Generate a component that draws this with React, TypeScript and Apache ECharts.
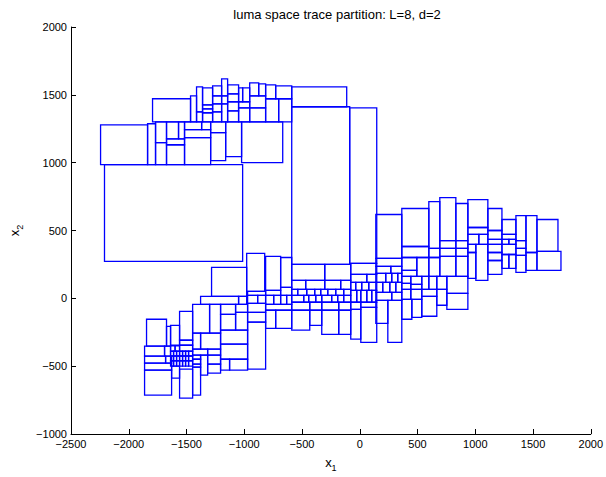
import React, { useEffect, useRef } from "react";
import * as echarts from "echarts";

// Each rectangle: [x0, x1, y0, y1] in data units
const topBlock: number[][] = [
  [-2244, -1837, 985, 1279],
  [-2210, -1014, 272, 985],
  [-1837, -1768, 985, 1287],
  [-1794, -1465, 1301, 1471],
  [-1465, -1413, 1301, 1493],
  [-1413, -1361, 1375, 1559],
  [-1413, -1361, 1301, 1375],
  [-1361, -1274, 1426, 1551],
  [-1361, -1274, 1397, 1426],
  [-1361, -1274, 1368, 1397],
  [-1361, -1274, 1301, 1368],
  [-1274, -1196, 1493, 1566],
  [-1274, -1196, 1434, 1493],
  [-1274, -1196, 1375, 1434],
  [-1274, -1196, 1301, 1375],
  [-1196, -1144, 1493, 1618],
  [-1196, -1144, 1434, 1493],
  [-1196, -1144, 1301, 1434],
  [-1144, -1049, 1507, 1574],
  [-1144, -1049, 1449, 1507],
  [-1144, -1049, 1382, 1449],
  [-1144, -1049, 1301, 1382],
  [-1049, -1014, 1449, 1551],
  [-1014, -953, 1449, 1551],
  [-1049, -953, 1404, 1449],
  [-1049, -953, 1301, 1404],
  [-953, -875, 1493, 1588],
  [-875, -815, 1493, 1581],
  [-953, -815, 1404, 1493],
  [-953, -815, 1301, 1404],
  [-815, -728, 1471, 1574],
  [-728, -589, 1471, 1566],
  [-815, -702, 1301, 1471],
  [-702, -589, 1301, 1471],
];

const topLower: number[][] = [
  [-1768, -1673, 1147, 1301],
  [-1768, -1673, 985, 1147],
  [-1673, -1569, 1176, 1301],
  [-1569, -1517, 1176, 1301],
  [-1673, -1517, 1132, 1176],
  [-1673, -1517, 985, 1132],
  [-1517, -1369, 1243, 1301],
  [-1369, -1291, 1243, 1301],
  [-1517, -1291, 1184, 1243],
  [-1517, -1291, 985, 1184],
  [-1291, -1161, 1221, 1301],
  [-1291, -1161, 1015, 1221],
  [-1161, -1023, 1044, 1301],
  [-1023, -667, 1000, 1301],
];

const middleTall: number[][] = [
  [-589, -113, 1412, 1559],
  [-589, -87, 250, 1412],
  [-87, 147, 257, 1404],
  [139, 364, 294, 618],
];

const lowerLeft: number[][] = [
  [-1283, -979, 15, 228],
  [-1378, -1049, -44, 15],
  [-1049, -979, -44, 15],
  [-1447, -1300, -257, -44],
  [-1300, -1205, -257, -44],
  [-1205, -1075, -118, -44],
  [-1205, -1075, -235, -118],
  [-1075, -971, -103, -44],
  [-1075, -971, -235, -103],
  [-1205, -971, -338, -235],
  [-1205, -971, -449, -338],
  [-1205, -1127, -529, -449],
  [-1127, -971, -529, -449],
  [-1447, -1378, -375, -257],
  [-1378, -1205, -375, -257],
  [-1447, -1317, -419, -375],
  [-1317, -1205, -419, -375],
  [-1317, -1205, -485, -419],
  [-1317, -1205, -551, -485],
  [-1378, -1317, -566, -419],
  [-1447, -1378, -449, -419],
  [-1447, -1378, -485, -449],
  [-1447, -1378, -507, -485],
  [-1447, -1378, -713, -507],
  [-1560, -1447, -309, -96],
  [-1560, -1447, -346, -309],
  [-1560, -1447, -390, -346],
  [-1560, -1447, -735, -522],
  [-1638, -1560, -346, -199],
  [-1673, -1638, -353, -206],
  [-1846, -1673, -353, -154],
  [-1863, -1690, -426, -353],
  [-1690, -1638, -426, -353],
  [-1863, -1681, -478, -426],
  [-1681, -1629, -478, -426],
  [-1863, -1629, -529, -478],
  [-1863, -1629, -713, -529],
  [-1629, -1560, -588, -500],
  [-1638, -1599, -390, -350],
  [-1599, -1560, -390, -350],
];

// small cells of the dense lower-left grid
const gridXEdges = [-1638, -1612, -1586, -1560, -1534, -1508, -1482, -1447];
const gridYEdges = [-390, -425, -460, -500];

const lowerMiddle: number[][] = [
  [-979, -823, 51, 331],
  [-815, -685, 59, 309],
  [-685, -589, 81, 301],
  [-589, -303, 132, 250],
  [-303, -78, 132, 250],
  [-78, 147, 176, 257],
  [-78, 61, 118, 176],
  [61, 147, 118, 176],
  [-971, -815, 22, 51],
  [-971, -884, -37, 22],
  [-884, -815, -37, 22],
  [-971, -815, -103, -37],
  [-971, -815, -176, -103],
  [-971, -815, -522, -176],
  [-815, -685, 22, 59],
  [-815, -745, -44, 22],
  [-745, -685, -44, 22],
  [-685, -589, 22, 81],
  [-685, -633, -44, 22],
  [-633, -589, -44, 22],
  [-815, -589, -88, -44],
  [-815, -728, -221, -88],
  [-728, -589, -221, -88],
  [-589, -433, -235, -88],
  [-433, -329, -199, -88],
  [-329, -182, -265, -88],
  [-182, -78, -265, -88],
  [-78, 9, -81, -29],
  [9, 147, -66, -29],
  [-78, 9, -301, -81],
  [9, 147, -324, -66],
];

// rows split into cells: [y0, y1, x edges...]
const splitRows: number[][] = [
  [66, 132, -589, -468, -303, -165, -78],
  [22, 66, -589, -537, -459, -390, -338, -277, -208, -139, -78],
  [-29, 22, -589, -485, -442, -381, -329, -243, -191, -139, -78],
  [-88, -29, -589, -433, -329, -182, -78],
  [59, 118, -78, -35, 17, 78, 147],
  [-29, 59, -78, -26, 9, 61, 104, 147],
  [118, 184, 139, 225, 277, 329, 364],
  [44, 118, 139, 199, 260, 312, 364],
  [-15, 44, 139, 277, 364],
];

const rightCluster: number[][] = [
  [139, 364, 235, 294],
  [139, 269, 184, 235],
  [269, 364, 184, 235],
  [139, 243, -184, -15],
  [243, 364, -324, -15],
  [364, 598, 382, 662],
  [364, 598, 301, 382],
  [364, 494, 206, 301],
  [364, 494, 162, 206],
  [494, 598, 162, 301],
  [598, 693, 368, 713],
  [598, 693, 301, 368],
  [598, 693, 162, 301],
  [693, 832, 426, 743],
  [693, 832, 368, 426],
  [693, 832, 309, 368],
  [693, 832, 162, 309],
  [832, 936, 426, 699],
  [832, 936, 368, 426],
  [832, 936, 309, 368],
  [832, 936, 162, 309],
  [364, 442, 110, 162],
  [364, 442, 66, 110],
  [442, 537, 103, 162],
  [442, 537, 66, 103],
  [537, 598, 66, 162],
  [598, 667, 66, 162],
  [667, 754, 66, 162],
  [364, 442, -7, 66],
  [442, 537, -7, 66],
  [537, 667, 15, 66],
  [537, 667, -132, 15],
  [667, 754, -51, 66],
  [754, 936, 37, 162],
  [754, 936, -81, 37],
  [364, 451, -154, -7],
  [451, 537, -140, -7],
];

const farRight: number[][] = [
  [936, 1109, 522, 728],
  [936, 1109, 471, 522],
  [936, 1031, 397, 471],
  [1031, 1109, 397, 471],
  [1109, 1231, 500, 662],
  [1109, 1231, 434, 500],
  [1109, 1231, 397, 434],
  [1231, 1352, 471, 581],
  [1231, 1352, 434, 471],
  [1231, 1291, 397, 434],
  [1291, 1352, 397, 434],
  [1352, 1439, 426, 610],
  [1439, 1534, 338, 610],
  [1534, 1716, 346, 581],
  [1534, 1742, 206, 346],
  [1439, 1534, 206, 338],
  [1352, 1439, 368, 426],
  [1352, 1439, 316, 368],
  [1352, 1439, 191, 316],
  [1231, 1352, 323, 397],
  [1231, 1291, 221, 323],
  [1291, 1352, 221, 323],
  [1109, 1231, 338, 397],
  [1109, 1231, 279, 338],
  [1109, 1231, 176, 279],
  [1005, 1109, 132, 397],
  [936, 1005, 338, 397],
  [936, 1005, 147, 338],
];

const xTicks = { min: -2500, max: 2000, step: 500 };
const yTicks = { min: -1000, max: 2000, step: 500 };
const titleText = "luma space trace partition: L=8, d=2";

function buildRects(): number[][] {
  const out: number[][] = [];
  [topBlock, topLower, middleTall, lowerLeft, lowerMiddle, rightCluster, farRight].forEach((g) =>
    g.forEach((r) => out.push(r))
  );
  splitRows.forEach((row) => {
    const [y0, y1, ...e] = row;
    for (let i = 0; i < e.length - 1; i++) out.push([e[i], e[i + 1], y0, y1]);
  });
  for (let j = 0; j < gridYEdges.length - 1; j++) {
    for (let i = 0; i < gridXEdges.length - 1; i++) {
      out.push([gridXEdges[i], gridXEdges[i + 1], gridYEdges[j + 1], gridYEdges[j]]);
    }
  }
  return out;
}

const fmt = (v: number) => (v < 0 ? "\u2212" + Math.abs(v) : String(v));
const FONT = "'Liberation Sans', Arial, Helvetica, sans-serif";

export default function App() {
  const ref = useRef<HTMLDivElement>(null);
  useEffect(() => {
    if (!ref.current) return;
    const chart = echarts.init(ref.current, null, { renderer: "svg" });
    const rects = buildRects();
    chart.setOption({
      animation: false,
      backgroundColor: "#ffffff",
      title: {
        text: titleText,
        left: 332,
        top: 3,
        textAlign: "center",
        textStyle: { fontSize: 13, fontWeight: "normal", color: "#000", fontFamily: FONT },
      },
      grid: { left: 71, right: 14, top: 27, bottom: 39, containLabel: false },
      xAxis: {
        type: "value",
        min: xTicks.min,
        max: xTicks.max,
        interval: xTicks.step,
        axisLine: { show: true, onZero: false, lineStyle: { color: "#000", width: 1 } },
        axisTick: { show: true, inside: true, length: 5, lineStyle: { color: "#000" } },
        axisLabel: { color: "#000", fontSize: 11, fontFamily: FONT, margin: 4, formatter: fmt },
        splitLine: { show: false },
        name: "x{s|1}",
        nameLocation: "middle",
        nameGap: 19,
        nameTextStyle: {
          color: "#000",
          fontSize: 13,
          fontFamily: FONT,
          rich: { s: { fontSize: 9, fontFamily: FONT, color: "#000", padding: [10, 0, 0, 0] } },
        },
      },
      yAxis: {
        type: "value",
        min: yTicks.min,
        max: yTicks.max,
        interval: yTicks.step,
        axisLine: { show: true, onZero: false, lineStyle: { color: "#000", width: 1 } },
        axisTick: { show: true, inside: true, length: 5, lineStyle: { color: "#000" } },
        axisLabel: { color: "#000", fontSize: 11, fontFamily: FONT, margin: 4, formatter: fmt },
        splitLine: { show: false },
        name: "x{s|2}",
        nameLocation: "middle",
        nameGap: 47,
        nameRotate: 90,
        nameTextStyle: {
          color: "#000",
          fontSize: 13,
          fontFamily: FONT,
          rich: { s: { fontSize: 9, fontFamily: FONT, color: "#000", padding: [10, 0, 0, 0] } },
        },
      },
      series: [
        {
          type: "custom",
          data: rects,
          encode: { x: [0, 1], y: [2, 3] },
          renderItem: (params: any, api: any) => {
            const a = api.coord([api.value(0), api.value(3)]);
            const b = api.coord([api.value(1), api.value(2)]);
            return {
              type: "rect",
              shape: { x: a[0], y: a[1], width: b[0] - a[0], height: b[1] - a[1] },
              style: { fill: "none", stroke: "#0000ff", lineWidth: 1.3 },
            };
          },
        },
      ],
    });
    return () => chart.dispose();
  }, []);
  return (
    <div
      ref={ref}
      style={{ position: "fixed", left: 0, top: 0, width: 606, height: 477, background: "#fff" }}
    />
  );
}
